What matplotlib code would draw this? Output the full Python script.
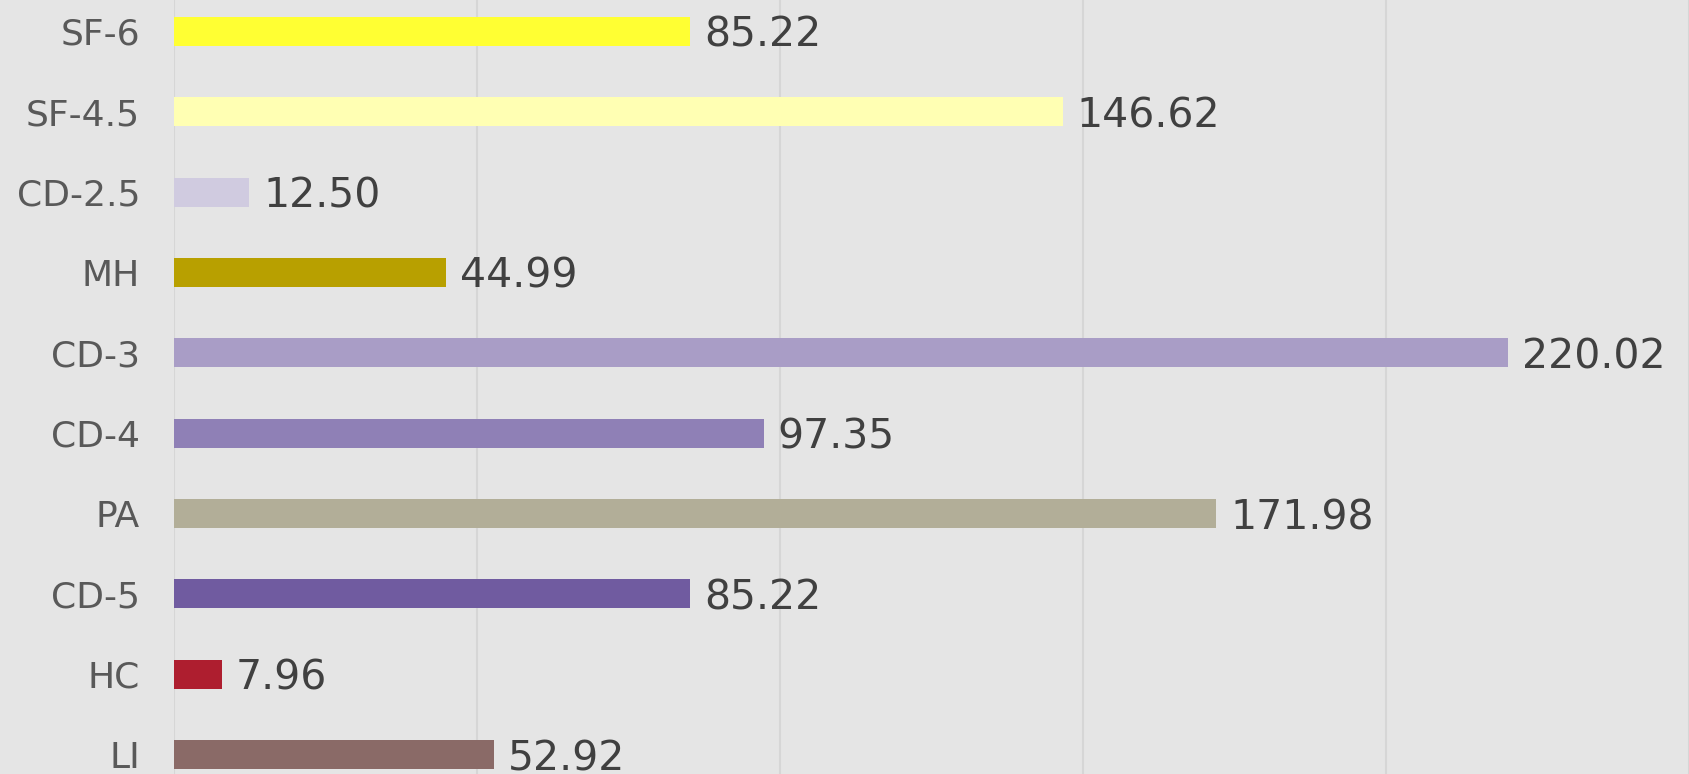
import matplotlib.pyplot as plt
import numpy as np

# categories top to bottom
labels = ['SF-6', 'SF-4.5', 'CD-2.5', 'MH', 'CD-3', 'CD-4', 'PA', 'CD-5', 'HC', 'LI']
values = [85.22, 146.62, 12.50, 44.99, 220.02, 97.35, 171.98, 85.22, 7.96, 52.92]
colors = ['#ffff33', '#ffffb3', '#d0cbe0', '#b8a000', '#a99dc6',
          '#8f80b6', '#b2ae98', '#705ba0', '#ae1e2f', '#8a6a67']

plt.rcParams['font.family'] = ['DejaVu Sans']

fig = plt.figure(figsize=(16.9, 7.74), dpi=100)
fig.patch.set_facecolor('#e5e5e5')
ax = fig.add_axes([0.1027, 0.0, 0.897, 1.0])
ax.set_facecolor('#e5e5e5')

y = np.arange(len(labels))
ax.barh(y, values, height=0.36, color=colors, zorder=2)

for yi, v in zip(y, values):
    ax.annotate(f'{v:.2f}', (v, yi), xytext=(10, 0), textcoords='offset points',
                va='center_baseline', ha='left', fontsize=29.5, color='#404040')

ax.set_xlim(0, 250)
ax.set_ylim(len(labels) - 1 + 0.24, -0.39)
ax.set_xticks([0, 50, 100, 150, 200, 250])
ax.xaxis.grid(True, color='#d6d6d6', linewidth=1.5, zorder=0)
ax.set_axisbelow(True)
ax.tick_params(axis='x', length=0, labelbottom=False)
ax.tick_params(axis='y', length=0, pad=24)
ax.set_yticks(y)
ax.set_yticklabels(labels, fontsize=26, color='#595959', va='center_baseline')
for s in ax.spines.values():
    s.set_visible(False)

fig.savefig('out.png', dpi=100, facecolor=fig.get_facecolor())
